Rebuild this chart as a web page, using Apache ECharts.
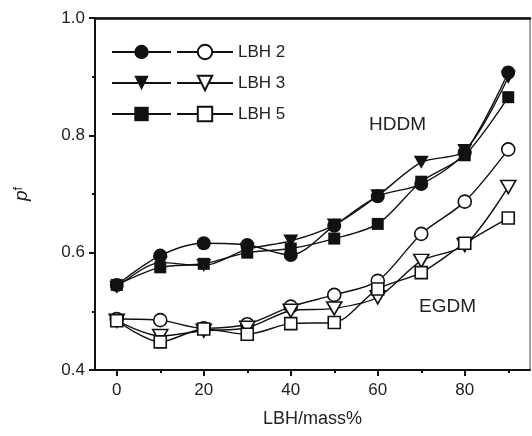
<!DOCTYPE html>
<html>
<head>
<meta charset="utf-8">
<title>pf vs LBH</title>
<script src="https://cdn.jsdelivr.net/npm/echarts@6/dist/echarts.min.js"></script>
<style>
  html,body{margin:0;padding:0;background:#fff;}
  #main{width:532px;height:436px;}
</style>
</head>
<body>
<div id="main"></div>
<script>
// LBH content, mass%
var lbh = [0, 10, 20, 30, 40, 50, 60, 70, 80, 90];
// HDDM (filled symbols)
var hddm2 = [0.545, 0.595, 0.616, 0.613, 0.596, 0.646, 0.696, 0.717, 0.771, 0.907];
var hddm3 = [0.541, 0.583, 0.578, 0.606, 0.620, 0.647, 0.697, 0.754, 0.774, 0.899];
var hddm5 = [0.545, 0.575, 0.581, 0.600, 0.607, 0.624, 0.649, 0.721, 0.766, 0.865];
// EGDM (open symbols)
var egdm2 = [0.487, 0.485, 0.471, 0.478, 0.508, 0.528, 0.552, 0.632, 0.687, 0.776];
var egdm3 = [0.484, 0.458, 0.467, 0.472, 0.501, 0.505, 0.524, 0.586, 0.613, 0.712];
var egdm5 = [0.484, 0.448, 0.470, 0.461, 0.479, 0.481, 0.538, 0.566, 0.616, 0.659];
var xTicks = [0, 20, 40, 60, 80];
var xMinorTicks = [10, 30, 50, 70, 90];

var font = 'Arial, "Liberation Sans", sans-serif';
var ink = '#111';
var triDown = 'path://M0,0L10,0L5,9Z';

function pairs(ys){
  var out = [];
  for (var i = 0; i < lbh.length; i++) out.push([lbh[i], ys[i]]);
  return out;
}
function mk(name, ys, symbol, size, open){
  return {
    name: name,
    type: 'line',
    data: pairs(ys),
    smooth: 0.3,
    symbol: symbol,
    symbolSize: size,
    symbolKeepAspect: false,
    showAllSymbol: true,
    lineStyle: {color: ink, width: 1.4},
    itemStyle: open ? {color: '#fff', borderColor: ink, borderWidth: 1.6}
                    : {color: ink, borderColor: ink, borderWidth: 0},
    emphasis: {disabled: true},
    z: open ? 3 : 2
  };
}

var legendText = {fontSize: 17, lineHeight: 18, height: 18, color: '#222', fontFamily: font};

var chart = echarts.init(document.getElementById('main'));
var option = {
  animation: false,
  textStyle: {fontFamily: font},
  grid: {left: 95, right: 2, top: 18, bottom: 66, show: true, borderColor: '#444', borderWidth: 1},
  legend: [
    {
      data: ['h2', 'h3', 'h5'],
      orient: 'vertical', left: 106, top: 38,
      itemWidth: 59, itemHeight: 18, itemGap: 13,
      formatter: function(){ return ' '; },
      textStyle: legendText,
      selectedMode: false
    },
    {
      data: ['LBH 2', 'LBH 3', 'LBH 5'],
      orient: 'vertical', left: 171, top: 38,
      itemWidth: 56, itemHeight: 18, itemGap: 13,
      textStyle: legendText,
      selectedMode: false
    }
  ],
  xAxis: [
    {
      type: 'value', min: -5, max: 95,
      axisLine: {show: true, onZero: false, lineStyle: {color: ink, width: 2}},
      axisTick: {show: true, length: 6, lineStyle: {color: ink, width: 2}, customValues: xTicks},
      axisLabel: {fontSize: 17, color: '#222', margin: 12, customValues: xTicks},
      splitLine: {show: false},
      name: 'LBH/mass%', nameLocation: 'middle', nameGap: 40,
      nameTextStyle: {fontSize: 18, color: '#222'}
    },
    {
      type: 'value', min: -5, max: 95, position: 'bottom',
      axisLine: {show: false, onZero: false},
      axisTick: {show: true, length: 3, lineStyle: {color: ink, width: 2}, customValues: xMinorTicks},
      axisLabel: {show: false},
      splitLine: {show: false}
    },
    {
      type: 'value', min: -5, max: 95, position: 'top',
      axisLine: {show: true, onZero: false, lineStyle: {color: ink, width: 2.5}},
      axisTick: {show: false}, axisLabel: {show: false}, splitLine: {show: false}
    }
  ],
  yAxis: {
    type: 'value', min: 0.4, max: 1.0, interval: 0.2,
    axisLine: {show: true, onZero: false, lineStyle: {color: ink, width: 2}},
    axisTick: {show: true, length: 6, lineStyle: {color: ink, width: 2}},
    minorTick: {show: true, splitNumber: 2, length: 3, lineStyle: {color: ink, width: 2}},
    axisLabel: {fontSize: 17, color: '#222', margin: 10, formatter: function(v){ return v.toFixed(1); }},
    splitLine: {show: false},
    name: '{p|p}{s|f}', nameLocation: 'middle', nameGap: 64, nameRotate: 90,
    nameTextStyle: {
      rich: {
        p: {fontSize: 19, fontStyle: 'italic', color: '#222', fontFamily: font, verticalAlign: 'bottom'},
        s: {fontSize: 13, color: '#222', fontFamily: font, verticalAlign: 'top'}
      }
    }
  },
  graphic: [
    {type: 'text', left: 369, top: 115, style: {text: 'HDDM', fontSize: 19, fill: '#222', fontFamily: font}},
    {type: 'text', left: 419, top: 297, style: {text: 'EGDM', fontSize: 19, fill: '#222', fontFamily: font}}
  ],
  series: [
    mk('h2', hddm2, 'circle', 14, false),
    mk('h3', hddm3, triDown, [15, 13], false),
    mk('h5', hddm5, 'rect', 12, false),
    mk('LBH 2', egdm2, 'circle', 13, true),
    mk('LBH 3', egdm3, triDown, [15, 13], true),
    mk('LBH 5', egdm5, 'rect', 12, true)
  ]
};
chart.setOption(option);
</script>
</body>
</html>
